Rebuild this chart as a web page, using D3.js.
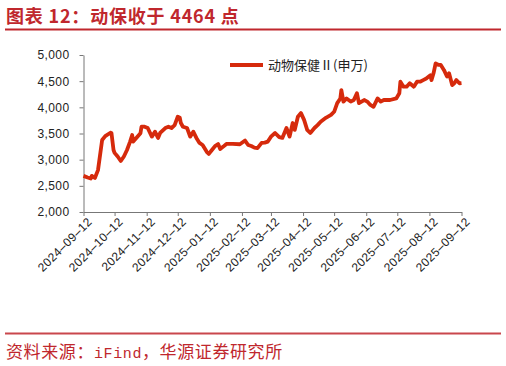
<!DOCTYPE html>
<html>
<head>
<meta charset="utf-8">
<script src="https://cdn.jsdelivr.net/npm/d3@7"></script>
<style>
  body { margin: 0; background: #fff; }
  svg { display: block; }
  .axis text { font-family: "Liberation Sans", Arial, sans-serif; font-size: 12px; letter-spacing: 0.4px; fill: #222; }
  .axis path, .axis line { stroke: #777; }
</style>
</head>
<body>
<script>
// data
var dates = ['2024-09-12','2024-09-16','2024-09-19','2024-09-20','2024-09-23','2024-09-26','2024-09-30',
  '2024-10-03','2024-10-08','2024-10-09','2024-10-11','2024-10-12','2024-10-15','2024-10-18','2024-10-21',
  '2024-10-24','2024-10-27','2024-10-29','2024-10-30','2024-11-02','2024-11-06','2024-11-07','2024-11-10',
  '2024-11-13','2024-11-17','2024-11-20','2024-11-23','2024-11-25','2024-11-30','2024-12-03','2024-12-06',
  '2024-12-09','2024-12-12','2024-12-14','2024-12-15','2024-12-17','2024-12-21','2024-12-24','2024-12-27',
  '2024-12-30','2025-01-02','2025-01-05','2025-01-09','2025-01-11','2025-01-14','2025-01-17','2025-01-20',
  '2025-01-22','2025-01-25','2025-01-28','2025-02-03','2025-02-10','2025-02-15','2025-02-18','2025-02-21',
  '2025-02-24','2025-02-27','2025-03-03','2025-03-06','2025-03-09','2025-03-12','2025-03-16','2025-03-20',
  '2025-03-23','2025-03-27','2025-03-30','2025-04-02','2025-04-04','2025-04-07','2025-04-10','2025-04-13',
  '2025-04-16','2025-04-19','2025-04-23','2025-04-26','2025-04-29','2025-05-04','2025-05-09','2025-05-12',
  '2025-05-15','2025-05-18','2025-05-19','2025-05-21','2025-05-24','2025-05-28','2025-05-31','2025-06-03',
  '2025-06-05','2025-06-10','2025-06-13','2025-06-16','2025-06-19','2025-06-23','2025-06-26','2025-06-29',
  '2025-07-05','2025-07-11','2025-07-14','2025-07-15','2025-07-18','2025-07-21','2025-07-24','2025-07-28',
  '2025-07-31','2025-08-03','2025-08-06','2025-08-09','2025-08-13','2025-08-14','2025-08-16','2025-08-18',
  '2025-08-21','2025-08-23','2025-08-26','2025-08-29','2025-08-31','2025-09-03','2025-09-05','2025-09-07',
  '2025-09-10','2025-09-12'];
var values = [2690,2660,2640,2690,2650,2800,3375,
  3450,3515,3510,3185,3130,3060,2975,3060,
  3185,3345,3470,3345,3415,3505,3630,3630,
  3605,3440,3535,3415,3510,3605,3630,3605,
  3660,3820,3800,3700,3630,3605,3440,3535,
  3415,3320,3280,3150,3110,3185,3260,3300,
  3205,3250,3300,3300,3295,3365,3280,3260,
  3230,3220,3320,3325,3345,3440,3510,3430,
  3415,3605,3440,3700,3570,3820,3890,3760,
  3570,3510,3605,3660,3725,3800,3855,3915,
  4080,4170,4330,4110,4170,4110,4140,4270,
  4080,4140,4110,4045,4010,4170,4110,4140,
  4140,4170,4270,4490,4395,4395,4460,4395,
  4490,4490,4520,4550,4615,4520,4650,4840,
  4810,4810,4715,4590,4650,4425,4460,4520,
  4460,4464];
var yTicks = [2000, 2500, 3000, 3500, 4000, 4500, 5000];
var xTickLabels = ['2024-09-12','2024-10-12','2024-11-12','2024-12-12','2025-01-12','2025-02-12',
  '2025-03-12','2025-04-12','2025-05-12','2025-06-12','2025-07-12','2025-08-12','2025-09-12'];
var seriesName = '动物保健Ⅱ(申万)';
var title = '图表 12：动保收于 4464 点';
var sourceParts = ['资料来源：', 'iFind', '，华源证券研究所'];

var W = 506, H = 366;
var red = '#c0272d';
var lineColor = '#d62a0c';
var parse = d3.timeParse('%Y-%m-%d');
var cjk = '"Noto Sans CJK SC", sans-serif';

var svg = d3.select('body').append('svg')
            .attr('width', W)
            .attr('height', H);

// header
svg.append('text')
   .attr('x', 6).attr('y', 23)
   .attr('fill', red)
   .style('font-family', cjk)
   .style('font-size', '18px')
   .style('font-weight', 'bold')
   .style('letter-spacing', '0.8px')
   .text(title);
svg.append('line')
   .attr('x1', 5).attr('x2', 501)
   .attr('y1', 29.5).attr('y2', 29.5)
   .attr('stroke', red).attr('stroke-width', 2);

// scales
var xScale = d3.scaleTime()
               .domain([parse(xTickLabels[0]), parse(xTickLabels[xTickLabels.length - 1])])
               .range([83.5, 461.5]);
var yScale = d3.scaleLinear().domain([2000, 5000]).range([212, 55]);

// axes
var fmt = d3.format(',');
svg.append('g')
   .attr('class', 'axis axis--y')
   .attr('transform', 'translate(83.5,0)')
   .call(d3.axisLeft(yScale).tickValues(yTicks).tickFormat(fmt).tickSize(4).tickSizeOuter(0))
   .selectAll('text').attr('dx', '-7');

var xAxis = svg.append('g')
   .attr('class', 'axis axis--x')
   .attr('transform', 'translate(0,212)')
   .call(d3.axisBottom(xScale)
           .tickValues(xTickLabels.map(parse))
           .tickFormat(function(d) { return d3.timeFormat('%Y–%m–%d')(d); })
           .tickSize(4).tickSizeOuter(0));
xAxis.selectAll('text')
     .style('text-anchor', 'end')
     .attr('dx', '-.1em')
     .attr('dy', '.55em')
     .attr('transform', 'rotate(-45)');

// series
var data = dates.map(function(d, i) { return {date: parse(d), value: values[i]}; });
var line = d3.line()
             .x(function(d) { return xScale(d.date); })
             .y(function(d) { return yScale(d.value); });
svg.append('path')
   .datum(data)
   .attr('fill', 'none')
   .attr('stroke', lineColor)
   .attr('stroke-width', 3.8)
   .attr('stroke-linejoin', 'round')
   .attr('d', line);

// legend
svg.append('line')
   .attr('x1', 230).attr('x2', 263)
   .attr('y1', 65).attr('y2', 65)
   .attr('stroke', lineColor).attr('stroke-width', 4);
svg.append('text')
   .attr('x', 268).attr('y', 70)
   .attr('fill', '#222')
   .style('font-family', cjk)
   .style('font-size', '13px')
   .text(seriesName);

// footer
svg.append('line')
   .attr('x1', 5).attr('x2', 501)
   .attr('y1', 333.5).attr('y2', 333.5)
   .attr('stroke', red).attr('stroke-width', 1.8)
   .attr('stroke-opacity', 0.85);
var src = svg.append('text')
   .attr('x', 6).attr('y', 358)
   .attr('fill', red)
   .style('font-family', cjk)
   .style('font-size', '17px')
   .style('letter-spacing', '0.6px');
src.append('tspan').text(sourceParts[0]);
src.append('tspan')
   .style('font-family', '"Liberation Mono", monospace')
   .style('font-size', '15px')
   .text(sourceParts[1]);
src.append('tspan').text(sourceParts[2]);
</script>
</body>
</html>
